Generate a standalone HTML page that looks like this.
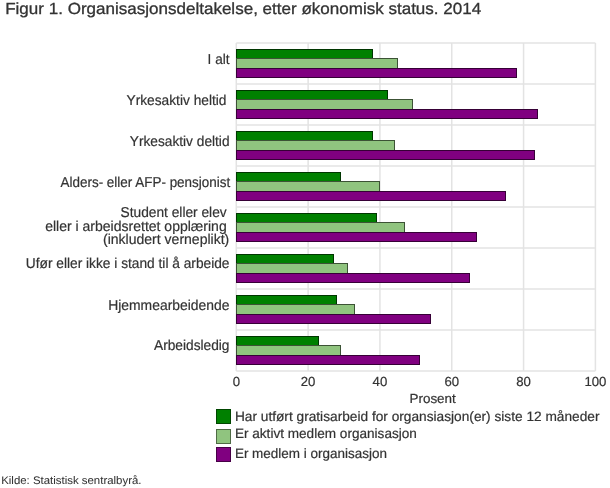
<!DOCTYPE html>
<html><head><meta charset="utf-8"><style>
html,body{margin:0;padding:0;background:#fff;}
body{width:610px;height:488px;overflow:hidden;}
svg{display:block;font-family:"Liberation Sans", sans-serif;text-rendering:geometricPrecision;will-change:transform;}
</style></head><body>
<svg width="610" height="488" viewBox="0 0 610 488">
<line x1="236.3" y1="42.90" x2="595.40" y2="42.90" stroke="#e3e3e3" stroke-width="1.5"/>
<line x1="236.3" y1="83.90" x2="595.40" y2="83.90" stroke="#e3e3e3" stroke-width="1.5"/>
<line x1="236.3" y1="124.90" x2="595.40" y2="124.90" stroke="#e3e3e3" stroke-width="1.5"/>
<line x1="236.3" y1="165.90" x2="595.40" y2="165.90" stroke="#e3e3e3" stroke-width="1.5"/>
<line x1="236.3" y1="206.90" x2="595.40" y2="206.90" stroke="#e3e3e3" stroke-width="1.5"/>
<line x1="236.3" y1="247.90" x2="595.40" y2="247.90" stroke="#e3e3e3" stroke-width="1.5"/>
<line x1="236.3" y1="288.90" x2="595.40" y2="288.90" stroke="#e3e3e3" stroke-width="1.5"/>
<line x1="236.3" y1="329.90" x2="595.40" y2="329.90" stroke="#e3e3e3" stroke-width="1.5"/>
<line x1="236.3" y1="370.90" x2="595.40" y2="370.90" stroke="#e3e3e3" stroke-width="1.5"/>
<line x1="236.30" y1="42.9" x2="236.30" y2="370.90" stroke="#e3e3e3" stroke-width="1.5"/>
<line x1="308.12" y1="42.9" x2="308.12" y2="370.90" stroke="#e3e3e3" stroke-width="1.5"/>
<line x1="379.94" y1="42.9" x2="379.94" y2="370.90" stroke="#e3e3e3" stroke-width="1.5"/>
<line x1="451.76" y1="42.9" x2="451.76" y2="370.90" stroke="#e3e3e3" stroke-width="1.5"/>
<line x1="523.58" y1="42.9" x2="523.58" y2="370.90" stroke="#e3e3e3" stroke-width="1.5"/>
<line x1="595.40" y1="42.9" x2="595.40" y2="370.90" stroke="#e3e3e3" stroke-width="1.5"/>
<rect x="236" y="49" width="137" height="10" fill="#008000"/>
<rect x="236.5" y="49.5" width="136" height="9" fill="none" stroke="#000" stroke-width="1" stroke-opacity="0.58"/>
<rect x="236" y="58" width="162" height="11" fill="#90c47f"/>
<rect x="236.5" y="58.5" width="161" height="10" fill="none" stroke="#000" stroke-width="1" stroke-opacity="0.58"/>
<rect x="236" y="68" width="281" height="10" fill="#800080"/>
<rect x="236.5" y="68.5" width="280" height="9" fill="none" stroke="#000" stroke-width="1" stroke-opacity="0.58"/>
<rect x="236" y="90" width="152" height="10" fill="#008000"/>
<rect x="236.5" y="90.5" width="151" height="9" fill="none" stroke="#000" stroke-width="1" stroke-opacity="0.58"/>
<rect x="236" y="99" width="177" height="11" fill="#90c47f"/>
<rect x="236.5" y="99.5" width="176" height="10" fill="none" stroke="#000" stroke-width="1" stroke-opacity="0.58"/>
<rect x="236" y="109" width="302" height="10" fill="#800080"/>
<rect x="236.5" y="109.5" width="301" height="9" fill="none" stroke="#000" stroke-width="1" stroke-opacity="0.58"/>
<rect x="236" y="131" width="137" height="10" fill="#008000"/>
<rect x="236.5" y="131.5" width="136" height="9" fill="none" stroke="#000" stroke-width="1" stroke-opacity="0.58"/>
<rect x="236" y="140" width="159" height="11" fill="#90c47f"/>
<rect x="236.5" y="140.5" width="158" height="10" fill="none" stroke="#000" stroke-width="1" stroke-opacity="0.58"/>
<rect x="236" y="150" width="299" height="10" fill="#800080"/>
<rect x="236.5" y="150.5" width="298" height="9" fill="none" stroke="#000" stroke-width="1" stroke-opacity="0.58"/>
<rect x="236" y="172" width="105" height="10" fill="#008000"/>
<rect x="236.5" y="172.5" width="104" height="9" fill="none" stroke="#000" stroke-width="1" stroke-opacity="0.58"/>
<rect x="236" y="181" width="144" height="11" fill="#90c47f"/>
<rect x="236.5" y="181.5" width="143" height="10" fill="none" stroke="#000" stroke-width="1" stroke-opacity="0.58"/>
<rect x="236" y="191" width="270" height="10" fill="#800080"/>
<rect x="236.5" y="191.5" width="269" height="9" fill="none" stroke="#000" stroke-width="1" stroke-opacity="0.58"/>
<rect x="236" y="213" width="141" height="10" fill="#008000"/>
<rect x="236.5" y="213.5" width="140" height="9" fill="none" stroke="#000" stroke-width="1" stroke-opacity="0.58"/>
<rect x="236" y="222" width="169" height="11" fill="#90c47f"/>
<rect x="236.5" y="222.5" width="168" height="10" fill="none" stroke="#000" stroke-width="1" stroke-opacity="0.58"/>
<rect x="236" y="232" width="241" height="10" fill="#800080"/>
<rect x="236.5" y="232.5" width="240" height="9" fill="none" stroke="#000" stroke-width="1" stroke-opacity="0.58"/>
<rect x="236" y="254" width="98" height="10" fill="#008000"/>
<rect x="236.5" y="254.5" width="97" height="9" fill="none" stroke="#000" stroke-width="1" stroke-opacity="0.58"/>
<rect x="236" y="263" width="112" height="11" fill="#90c47f"/>
<rect x="236.5" y="263.5" width="111" height="10" fill="none" stroke="#000" stroke-width="1" stroke-opacity="0.58"/>
<rect x="236" y="273" width="234" height="10" fill="#800080"/>
<rect x="236.5" y="273.5" width="233" height="9" fill="none" stroke="#000" stroke-width="1" stroke-opacity="0.58"/>
<rect x="236" y="295" width="101" height="10" fill="#008000"/>
<rect x="236.5" y="295.5" width="100" height="9" fill="none" stroke="#000" stroke-width="1" stroke-opacity="0.58"/>
<rect x="236" y="304" width="119" height="11" fill="#90c47f"/>
<rect x="236.5" y="304.5" width="118" height="10" fill="none" stroke="#000" stroke-width="1" stroke-opacity="0.58"/>
<rect x="236" y="314" width="195" height="10" fill="#800080"/>
<rect x="236.5" y="314.5" width="194" height="9" fill="none" stroke="#000" stroke-width="1" stroke-opacity="0.58"/>
<rect x="236" y="336" width="83" height="10" fill="#008000"/>
<rect x="236.5" y="336.5" width="82" height="9" fill="none" stroke="#000" stroke-width="1" stroke-opacity="0.58"/>
<rect x="236" y="345" width="105" height="11" fill="#90c47f"/>
<rect x="236.5" y="345.5" width="104" height="10" fill="none" stroke="#000" stroke-width="1" stroke-opacity="0.58"/>
<rect x="236" y="355" width="184" height="10" fill="#800080"/>
<rect x="236.5" y="355.5" width="183" height="9" fill="none" stroke="#000" stroke-width="1" stroke-opacity="0.58"/>
<text x="5.2" y="13.8" font-size="16.1" text-anchor="start" fill="#333" stroke="#333" stroke-width="0.3" textLength="476" lengthAdjust="spacingAndGlyphs">Figur 1. Organisasjonsdeltakelse, etter økonomisk status. 2014</text>
<text x="207.6" y="63.8" font-size="14.3" text-anchor="start" fill="#333" stroke="#333" stroke-width="0.2" textLength="21.9" lengthAdjust="spacingAndGlyphs">I alt</text>
<text x="126.5" y="104.7" font-size="14.3" text-anchor="start" fill="#333" stroke="#333" stroke-width="0.2" textLength="100.0" lengthAdjust="spacingAndGlyphs">Yrkesaktiv heltid</text>
<text x="129.8" y="145.7" font-size="14.3" text-anchor="start" fill="#333" stroke="#333" stroke-width="0.2" textLength="99.7" lengthAdjust="spacingAndGlyphs">Yrkesaktiv deltid</text>
<text x="60.5" y="186.6" font-size="14.3" text-anchor="start" fill="#333" stroke="#333" stroke-width="0.2" textLength="169.7" lengthAdjust="spacingAndGlyphs">Alders- eller AFP- pensjonist</text>
<text x="120.5" y="217.2" font-size="14.3" text-anchor="start" fill="#333" stroke="#333" stroke-width="0.2" textLength="106.2" lengthAdjust="spacingAndGlyphs">Student eller elev</text>
<text x="45.2" y="231.0" font-size="14.3" text-anchor="start" fill="#333" stroke="#333" stroke-width="0.2" textLength="181.5" lengthAdjust="spacingAndGlyphs">eller i arbeidsrettet opplæring</text>
<text x="103" y="244.3" font-size="14.3" text-anchor="start" fill="#333" stroke="#333" stroke-width="0.2" textLength="126.3" lengthAdjust="spacingAndGlyphs">(inkludert verneplikt)</text>
<text x="25.8" y="268.4" font-size="14.3" text-anchor="start" fill="#333" stroke="#333" stroke-width="0.2" textLength="203.7" lengthAdjust="spacingAndGlyphs">Ufør eller ikke i stand til å arbeide</text>
<text x="108.2" y="309.5" font-size="14.3" text-anchor="start" fill="#333" stroke="#333" stroke-width="0.2" textLength="121.3" lengthAdjust="spacingAndGlyphs">Hjemmearbeidende</text>
<text x="154" y="350" font-size="14.3" text-anchor="start" fill="#333" stroke="#333" stroke-width="0.2" textLength="75.5" lengthAdjust="spacingAndGlyphs">Arbeidsledig</text>
<text x="236.3" y="386.2" font-size="13.2" text-anchor="middle" fill="#333" stroke="#333" stroke-width="0.2">0</text>
<text x="308.1" y="386.2" font-size="13.2" text-anchor="middle" fill="#333" stroke="#333" stroke-width="0.2">20</text>
<text x="379.9" y="386.2" font-size="13.2" text-anchor="middle" fill="#333" stroke="#333" stroke-width="0.2">40</text>
<text x="451.8" y="386.2" font-size="13.2" text-anchor="middle" fill="#333" stroke="#333" stroke-width="0.2">60</text>
<text x="523.6" y="386.2" font-size="13.2" text-anchor="middle" fill="#333" stroke="#333" stroke-width="0.2">80</text>
<text x="595.4" y="386.2" font-size="13.2" text-anchor="middle" fill="#333" stroke="#333" stroke-width="0.2">100</text>
<text x="409.5" y="403.4" font-size="13.2" text-anchor="start" fill="#333" stroke="#333" stroke-width="0.2" textLength="46.3" lengthAdjust="spacingAndGlyphs">Prosent</text>
<rect x="216" y="409" width="15" height="15" fill="#008000"/>
<rect x="216.5" y="409.5" width="14" height="14" fill="none" stroke="#000" stroke-width="1" stroke-opacity="0.45"/>
<text x="234.9" y="421.2" font-size="13.6" text-anchor="start" fill="#333" stroke="#333" stroke-width="0.2" textLength="364.6" lengthAdjust="spacingAndGlyphs">Har utført gratisarbeid for organsiasjon(er) siste 12 måneder</text>
<rect x="216" y="429" width="15" height="15" fill="#90c47f"/>
<rect x="216.5" y="429.5" width="14" height="14" fill="none" stroke="#000" stroke-width="1" stroke-opacity="0.45"/>
<text x="234.9" y="437.8" font-size="13.6" text-anchor="start" fill="#333" stroke="#333" stroke-width="0.2" textLength="182.0" lengthAdjust="spacingAndGlyphs">Er aktivt medlem organisasjon</text>
<rect x="216" y="447" width="15" height="15" fill="#800080"/>
<rect x="216.5" y="447.5" width="14" height="14" fill="none" stroke="#000" stroke-width="1" stroke-opacity="0.45"/>
<text x="234.9" y="458.4" font-size="13.6" text-anchor="start" fill="#333" stroke="#333" stroke-width="0.2" textLength="152.1" lengthAdjust="spacingAndGlyphs">Er medlem i organisasjon</text>
<text x="1.2" y="484" font-size="11" text-anchor="start" fill="#333" stroke="#333" stroke-width="0.05" textLength="140.3" lengthAdjust="spacingAndGlyphs">Kilde: Statistisk sentralbyrå.</text>
</svg>
</body></html>
